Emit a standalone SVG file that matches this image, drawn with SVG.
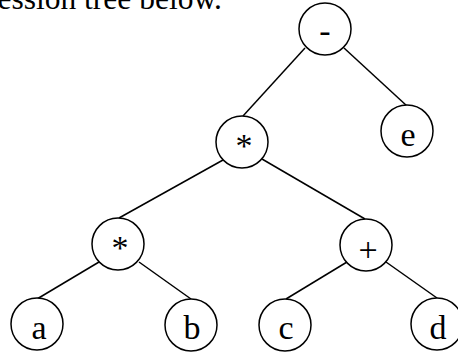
<svg xmlns="http://www.w3.org/2000/svg" width="458" height="353" viewBox="0 0 458 353">
<style>
.n{fill:#fff;stroke:#000;stroke-width:1.5}
.t{font-family:"Liberation Serif","Times New Roman",serif;font-size:34px;text-anchor:middle;fill:#000}
.e{stroke:#000;stroke-width:1.5;fill:none}
.h{font-family:"Liberation Serif","Times New Roman",serif;font-size:31.5px;fill:#000;text-anchor:end}
</style>
<rect width="458" height="353" fill="#fff"/>
<text class="h" x="222" y="9">ession tree below.</text>
<g id="edges">
<line class="e" x1="305" y1="48" x2="243" y2="116"/>
<line class="e" x1="344" y1="48" x2="407" y2="106"/>
<line class="e" x1="223" y1="160" x2="119" y2="218"/>
<line class="e" x1="262" y1="159" x2="365" y2="219"/>
<line class="e" x1="99" y1="262" x2="37" y2="299"/>
<line class="e" x1="139" y1="262" x2="191" y2="299"/>
<line class="e" x1="347" y1="262" x2="286" y2="299"/>
<line class="e" x1="386" y1="262" x2="437" y2="298"/>
</g>
<g id="minus"><circle class="n" cx="325" cy="29" r="26"/><text class="t" x="325" y="42">-</text></g>
<g id="mul1"><circle class="n" cx="242" cy="142" r="26"/><text class="t" x="244" y="157">*</text></g>
<g id="e"><circle class="n" cx="407" cy="131" r="26"/><text class="t" x="408" y="146">e</text></g>
<g id="mul2"><circle class="n" cx="118" cy="244" r="26"/><text class="t" x="120" y="259">*</text></g>
<g id="plus"><circle class="n" cx="366" cy="245" r="26"/><text class="t" x="368" y="261">+</text></g>
<g id="a"><circle class="n" cx="37" cy="324" r="26"/><text class="t" x="39" y="339">a</text></g>
<g id="b"><circle class="n" cx="191" cy="325" r="26"/><text class="t" x="192" y="339">b</text></g>
<g id="c"><circle class="n" cx="285" cy="325" r="26"/><text class="t" x="286" y="339">c</text></g>
<g id="d"><circle class="n" cx="437" cy="324" r="26"/><text class="t" x="438" y="339">d</text></g>
</svg>
